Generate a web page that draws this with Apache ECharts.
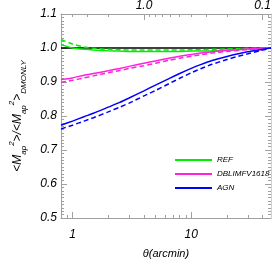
<!DOCTYPE html>
<html><head><meta charset="utf-8">
<script src="https://cdn.jsdelivr.net/npm/echarts@6/dist/echarts.min.js"></script>
<style>html,body{margin:0;padding:0;background:#fff}#c{width:274px;height:274px}</style>
</head><body><div id="c"></div>
<script>
// theta in arcmin
const theta      = [0.8,   1,     1.25,  1.5,   2,     2.5,   3,     4,     5,     6.5,   8,     10,    12,    15,    20,    25,    30,    38,    47];
const refSolid   = [1.010, 1.000, 0.996, 0.994, 0.992, 0.991, 0.990, 0.990, 0.990, 0.990, 0.990, 0.991, 0.991, 0.992, 0.994, 0.995, 0.997, 0.998, 1.000];
const refDashed  = [1.025, 1.012, 1.003, 0.999, 0.996, 0.995, 0.994, 0.994, 0.994, 0.994, 0.994, 0.995, 0.995, 0.996, 0.997, 0.998, 0.999, 1.000, 1.000];
const dblSolid   = [0.907, 0.912, 0.920, 0.925, 0.933, 0.940, 0.946, 0.955, 0.962, 0.970, 0.976, 0.981, 0.985, 0.989, 0.993, 0.995, 0.997, 0.999, 1.000];
const dblDashed  = [0.899, 0.905, 0.912, 0.918, 0.927, 0.934, 0.940, 0.948, 0.955, 0.964, 0.970, 0.976, 0.980, 0.985, 0.990, 0.993, 0.995, 0.998, 1.000];
const agnSolid   = [0.773, 0.785, 0.798, 0.808, 0.826, 0.840, 0.853, 0.874, 0.891, 0.910, 0.925, 0.940, 0.951, 0.963, 0.975, 0.983, 0.989, 0.995, 1.000];
const agnDashed  = [0.762, 0.773, 0.785, 0.795, 0.812, 0.826, 0.838, 0.859, 0.875, 0.895, 0.911, 0.927, 0.939, 0.952, 0.966, 0.976, 0.983, 0.992, 1.000];
const dmonly     = theta.map(() => 1);
const names = ['REF', 'DBLIMFV1618', 'AGN'];
const colors = ['#00ee00', '#ff22dd', '#0000ff'];

const xMin = 0.8, xMax = 47;
const xMajor = [1, 10];
const xMinor = [0.9, 2, 3, 4, 5, 6, 7, 8, 9, 20, 30, 40];
const topConst = 4; // top value = topConst / theta
const topMajor = [0.1, 1];
const topMinor = [0.09, 0.2, 0.3, 0.4, 0.5, 0.6, 0.7, 0.8, 0.9, 2, 3, 4];
const yMin = 0.5, yMax = 1.1, yStep = 0.1;

const pairs = arr => theta.map((t, i) => [t, arr[i]]);
const font = 'Liberation Sans';
const axCol = '#a0a0a0';
const lblStyle = {color: '#000', fontFamily: font, fontStyle: 'italic', fontSize: 12};

function logAxis(pos, min, max, major, minor, isMajor, extra) {
  return Object.assign({
    type: 'log', logBase: 10, position: pos, min: min, max: max,
    axisLine: {show: isMajor, lineStyle: {color: axCol, width: 1}},
    axisTick: {show: true, inside: true, length: isMajor ? 6 : 3,
      customValues: isMajor ? major : minor, lineStyle: {color: axCol}},
    axisLabel: isMajor ? Object.assign({show: true, customValues: major}, lblStyle) : {show: false},
    splitLine: {show: false}, minorTick: {show: false}
  }, extra || {});
}

const xAxes = [
  logAxis('bottom', xMin, xMax, xMajor, xMinor, true, {
    axisLabel: Object.assign({show: true, customValues: xMajor, margin: 11}, lblStyle),
    name: 'θ(arcmin)', nameLocation: 'middle', nameGap: 30,
    nameTextStyle: {color: '#000', fontFamily: font, fontStyle: 'italic', fontSize: 11}
  }),
  logAxis('bottom', xMin, xMax, xMajor, xMinor, false),
  logAxis('top', topConst / xMax, topConst / xMin, topMajor, topMinor, true, {
    inverse: true,
    axisLabel: Object.assign({show: true, customValues: topMajor, margin: 2,
      formatter: v => Number(v).toFixed(1)}, lblStyle)
  }),
  logAxis('top', topConst / xMax, topConst / xMin, topMajor, topMinor, false, {inverse: true})
];

function yAx(pos, labels) {
  return {
    type: 'value', position: pos, min: yMin, max: yMax, interval: yStep,
    axisLine: {show: true, lineStyle: {color: axCol}},
    axisTick: {show: true, inside: true, length: 6, lineStyle: {color: axCol}},
    minorTick: {show: true, splitNumber: 10, length: 3, lineStyle: {color: axCol}},
    splitLine: {show: false},
    axisLabel: labels ? Object.assign({show: true, margin: 4, formatter: v => v.toFixed(1)}, lblStyle) : {show: false}
  };
}
const yLeft = yAx('left', true);
yLeft.name = '<M{sub|ap}{sup|2}>/<M{sub|ap}{sup|2}>{sub|DMONLY}';
yLeft.nameLocation = 'middle';
yLeft.nameGap = 33;
yLeft.nameTextStyle = {
  color: '#000', fontFamily: font, fontStyle: 'italic', fontSize: 12, lineHeight: 20,
  rich: {
    sub: {fontFamily: font, fontStyle: 'italic', fontSize: 8, verticalAlign: 'bottom', lineHeight: 20, color: '#000'},
    sup: {fontFamily: font, fontStyle: 'italic', fontSize: 8, verticalAlign: 'top', lineHeight: 20, color: '#000'}
  }
};
const yRight = yAx('right', false);
yRight.axisLine.lineStyle = {color: '#d0d0d0'};

const series = [
  {name: 'DMONLY', type: 'line', data: pairs(dmonly), showSymbol: false,
   lineStyle: {color: '#000', width: 1.5}, itemStyle: {color: '#000'}, silent: true}
];
const solids = [refSolid, dblSolid, agnSolid];
const dashes = [refDashed, dblDashed, agnDashed];
names.forEach((n, i) => {
  series.push({name: n, type: 'line', data: pairs(solids[i]), showSymbol: false, smooth: 0.2,
    lineStyle: {color: colors[i], width: 1.5}, itemStyle: {color: colors[i]}});
  series.push({name: n + ' (dashed)', type: 'line', data: pairs(dashes[i]), showSymbol: false, smooth: 0.2,
    lineStyle: {color: colors[i], width: 1.5, type: [5, 3]}, itemStyle: {color: colors[i]}});
});

const chart = echarts.init(document.getElementById('c'), null, {renderer: 'canvas'});
chart.setOption({
  animation: false,
  backgroundColor: '#fff',
  grid: {left: 54, right: 3, top: 13, bottom: 56, containLabel: false},
  xAxis: xAxes,
  yAxis: [yLeft, yRight],
  legend: {
    data: names, orient: 'vertical', left: 170, top: 151,
    icon: 'rect', itemWidth: 37, itemHeight: 2, itemGap: 6,
    textStyle: {color: '#000', fontFamily: font, fontStyle: 'italic', fontSize: 8}
  },
  series: series
});
</script></body></html>
